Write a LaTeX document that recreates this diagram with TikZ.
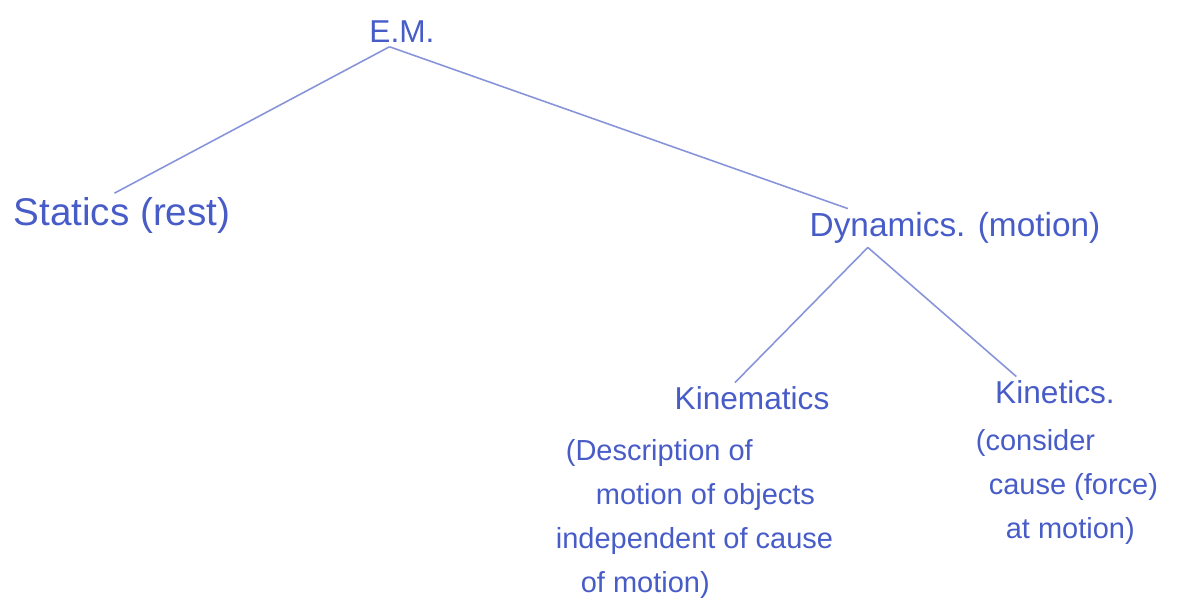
\documentclass[tikz,border=0pt]{standalone}
\usepackage{fontspec}
\setmainfont{Liberation Sans}
\usepackage{tikz}
\usetikzlibrary{calc,positioning}
\definecolor{ink}{RGB}{72,92,200}
\definecolor{inkline}{RGB}{135,148,218}

\begin{document}
\begin{tikzpicture}[x=0.02cm,y=-0.02cm,
  word/.style={text=ink,inner sep=2pt,font=\fontsize{18}{22}\selectfont},
  note/.style={text=ink,inner sep=2pt,align=left,font=\fontsize{16.5}{25}\selectfont},
  branch/.style={draw=inkline,line width=0.9pt}]
\useasboundingbox (0,0) rectangle (1181,610);
\node[word] (em) at (402,32) {E.M.};
\node[word,font=\fontsize{22}{26}\selectfont] (statics) at (122,215) {Statics (rest)};
\node[word,font=\fontsize{19}{23}\selectfont] (dyn) at (955,228) {Dynamics. (motion)};
\node[word] (kinem) at (752,398) {Kinematics};
\node[word] (kinet) at (1055,392) {Kinetics.};
\node[note,anchor=north west] (desc) at (552,436) {\hspace*{0.2cm}(Description of\\ \hspace*{0.8cm}motion of objects\\ independent of cause\\ \hspace*{0.5cm}of motion)};
\node[note,anchor=north west] (cause) at (972,426) {(consider\\ \hspace*{0.26cm}cause (force)\\ \hspace*{0.6cm}at motion)};
\draw[branch] ([xshift=-0.25cm]em.south) -- ([xshift=-0.15cm]statics.north);
\draw[branch] ([xshift=-0.25cm]em.south) -- ([xshift=0.84cm]dyn.north west);
\draw[branch] ([xshift=1.24cm]dyn.south west) -- ([xshift=-0.34cm]kinem.north);
\draw[branch] ([xshift=1.24cm]dyn.south west) -- ([xshift=0.5cm]kinet.north west);
\end{tikzpicture}
\end{document}
